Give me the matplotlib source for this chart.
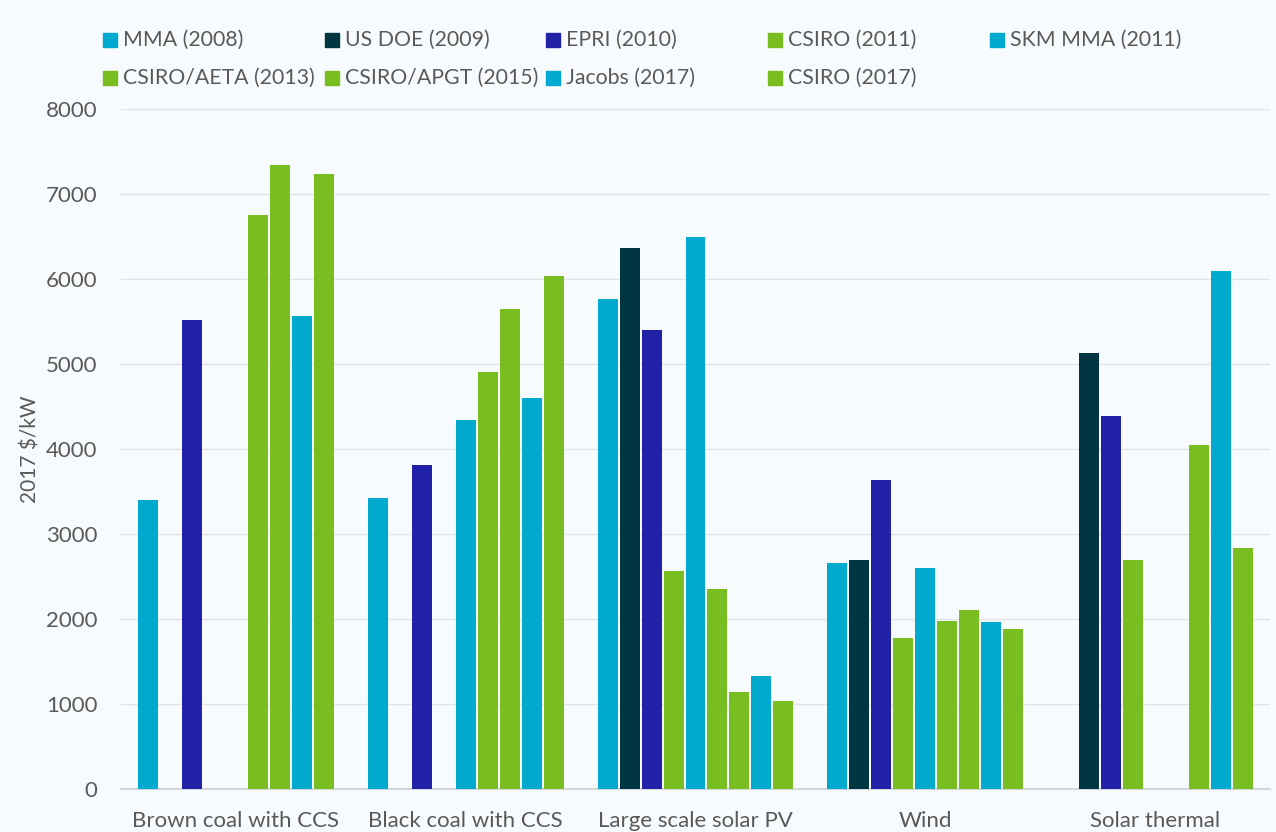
import numpy as np
import matplotlib.pyplot as plt
from matplotlib.patches import Rectangle

plt.rcParams['font.family'] = ['Lato', 'DejaVu Sans']

# Datos
categorias = ['Brown coal with CCS', 'Black coal with CCS', 'Large scale solar PV',
              'Wind', 'Solar thermal']
series = ['MMA (2008)', 'US DOE (2009)', 'EPRI (2010)', 'CSIRO (2011)', 'SKM MMA (2011)',
          'CSIRO/AETA (2013)', 'CSIRO/APGT (2015)', 'Jacobs (2017)', 'CSIRO (2017)']
nan = np.nan
mma_2008 = [3400, 3420, 5770, 2660, nan]
us_doe_2009 = [nan, nan, 6370, 2690, 5130]
epri_2010 = [5520, 3810, 5400, 3630, 4390]
csiro_2011 = [nan, nan, 2560, 1780, 2700]
skm_mma_2011 = [nan, 4340, 6500, 2600, nan]
csiro_aeta_2013 = [6750, 4900, 2350, 1980, nan]
csiro_apgt_2015 = [7340, 5650, 1140, 2110, 4050]
jacobs_2017 = [5570, 4600, 1330, 1970, 6090]
csiro_2017 = [7230, 6030, 1030, 1880, 2840]
valores = [mma_2008, us_doe_2009, epri_2010, csiro_2011, skm_mma_2011,
           csiro_aeta_2013, csiro_apgt_2015, jacobs_2017, csiro_2017]

cian = '#00a9ce'
oscuro = '#003641'
azul = '#2222a8'
verde = '#78be20'
colores = [cian, oscuro, azul, verde, cian, verde, verde, cian, verde]
gris_texto = '#595959'
fondo = '#f8fbfd'

fig = plt.figure(figsize=(12.76, 8.32), dpi=100, facecolor=fondo)
W, H = 1276, 832
ax = fig.add_axes([121 / W, (H - 789) / H, (1270 - 121) / W, (789 - 109) / H])
ax.set_facecolor(fondo)

x = np.arange(len(categorias))
paso = 22 / 230
ancho = 20 / 230
for i, (vals, col) in enumerate(zip(valores, colores)):
    ax.bar(x + (i - 4) * paso, vals, width=ancho, color=col, zorder=3)

ax.set_xlim(-0.5, 4.5)
ax.set_ylim(0, 8000)
ax.set_yticks(range(0, 8001, 1000))
ax.set_xticks(x)
ax.set_xticklabels(categorias)
ax.tick_params(axis='both', length=0, labelsize=16, colors=gris_texto)
ax.tick_params(axis='y', pad=17)
ax.tick_params(axis='x', pad=16)
ax.grid(axis='y', color='#e2e3e6', linewidth=1.0, zorder=0)
for lado in ['top', 'right', 'left']:
    ax.spines[lado].set_visible(False)
ax.spines['bottom'].set_color('#d4d6d9')
ax.spines['bottom'].set_linewidth(1.5)
ax.set_ylabel('2017 $/kW', fontsize=15, color=gris_texto, labelpad=4)

# Leyenda manual (columnas equiespaciadas)
for i, (nombre, col) in enumerate(zip(series, colores)):
    fila, columna = divmod(i, 5)
    px = 103 + columna * 221.7
    py = 40 + fila * 38
    fig.add_artist(Rectangle((px / W, (H - py - 7) / H), 14 / W, 14 / H,
                             transform=fig.transFigure, color=col))
    fig.text((px + 20) / W, (H - py) / H, nombre, fontsize=15.3, color=gris_texto,
             va='center', ha='left')

plt.savefig('out.png', dpi=100, facecolor=fondo)
